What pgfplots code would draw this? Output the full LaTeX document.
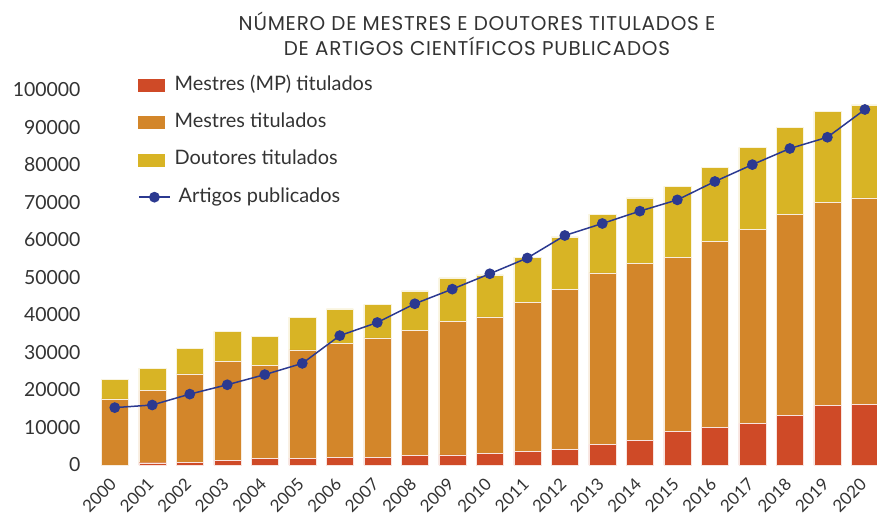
\documentclass[border=0pt]{standalone}
\usepackage{fontspec}
\setmainfont{Lato}
\newfontfamily\titlefont[LetterSpace=4]{Poppins}
\usepackage{pgfplots}
\pgfplotsset{compat=1.18}
\usepackage{pgfplotstable}
\definecolor{cMP}{HTML}{CF4A27}
\definecolor{cM}{HTML}{D3862A}
\definecolor{cD}{HTML}{D8B425}
\definecolor{cA}{HTML}{2B3990}
\definecolor{txt}{HTML}{333333}

\pgfplotstableread{
x year MP Mestres Doutores Artigos
0  2000 0     17600 5300  15300
1  2001 600   19300 5900  16000
2  2002 700   23600 6800  18900
3  2003 1300  26300 8000  21400
4  2004 1800  24700 7800  24100
5  2005 1800  28900 8700  27100
6  2006 2100  30400 9100  34500
7  2007 2000  31900 8900  38000
8  2008 2500  33400 10500 43000
9  2009 2700  35600 11600 46900
10 2010 3100  36400 11200 51000
11 2011 3600  39800 12000 55200
12 2012 4100  42800 13900 61200
13 2013 5500  45700 15700 64400
14 2014 6600  47200 17400 67700
15 2015 8900  46500 18900 70700
16 2016 10100 49500 19800 75600
17 2017 11100 51800 21800 80100
18 2018 13300 53600 23100 84400
19 2019 15900 54200 24200 87400
20 2020 16100 55100 24800 94800
}\datatable

\begin{document}
\begin{tikzpicture}
\begin{axis}[
  at={(96bp,49bp)}, anchor=south west,
  scale only axis,
  width=782bp, height=375bp,
  xmin=-0.5, xmax=20.35,
  ymin=0, ymax=100000,
  axis line style={draw=none},
  major tick length=0pt,
  xtick=data,
  xticklabels={2000,2001,2002,2003,2004,2005,2006,2007,2008,2009,2010,2011,2012,2013,2014,2015,2016,2017,2018,2019,2020},
  ytick={0,10000,...,100000},
  scaled y ticks=false,
  /pgf/number format/assume math mode=true,
  yticklabel={\pgfmathprintnumber[fixed,1000 sep={}]{\tick}},
  yticklabel style={font=\fontsize{19.5}{22}\selectfont, text=txt, anchor=east, xshift=-12bp},
  xticklabel style={font=\fontsize{17}{20}\selectfont, text=txt, inner sep=0pt, xshift=-6bp, yshift=-12bp, rotate=45, anchor=north east},
  ybar stacked,
  bar width=27bp,
  clip=false,
  legend style={draw=none, fill=none, at={(138bp-96bp,514bp-49bp-74bp)}, anchor=north west,
    font=\fontsize{20}{24}\selectfont, text=txt, row sep=15.4bp, inner sep=0pt,
    nodes={text height=14bp, text depth=4bp},
    /tikz/every odd column/.append style={column sep=8bp}},
  legend cell align=left,
]
\addplot+[ybar stacked, fill=cMP, draw=white!85!cMP, line width=0.4pt,
  legend image code/.code={\fill[cMP] (3bp,-6bp) rectangle (29bp,6bp);}]
  table[x=x, y=MP]{\datatable};
\addlegendentry{Mestres (MP) titulados}
\addplot+[ybar stacked, fill=cM, draw=white!85!cM, line width=0.4pt,
  legend image code/.code={\fill[cM] (3bp,-6bp) rectangle (29bp,6bp);}]
  table[x=x, y=Mestres]{\datatable};
\addlegendentry{Mestres titulados}
\addplot+[ybar stacked, fill=cD, draw=white!85!cD, line width=0.4pt,
  legend image code/.code={\fill[cD] (3bp,-6bp) rectangle (29bp,6bp);}]
  table[x=x, y=Doutores]{\datatable};
\addlegendentry{Doutores titulados}
\end{axis}
\begin{axis}[
  at={(96bp,49bp)}, anchor=south west,
  scale only axis,
  width=782bp, height=375bp,
  xmin=-0.5, xmax=20.35,
  ymin=0, ymax=100000,
  axis lines=none,
  ticks=none,
  clip=false,
  legend style={draw=none, fill=none, at={(138bp-96bp,514bp-49bp-186bp)}, anchor=north west,
    font=\fontsize{20}{24}\selectfont, text=txt, inner sep=0pt,
    nodes={text height=14bp, text depth=4bp},
    /tikz/every odd column/.append style={column sep=6bp}},
]
\addplot[color=cA, line width=1.5pt, mark=*, mark size=4.6bp, mark options={fill=cA, draw=cA},
  legend image code/.code={\draw[cA, line width=1.5pt] (0bp,0) -- (31bp,0); \fill[cA] (15.5bp,0) circle (4.6bp);}]
  table[x=x, y=Artigos]{\datatable};
\addlegendentry{Artigos publicados}
\end{axis}
\node[font=\titlefont\fontsize{20}{25}\selectfont, text=txt, align=center, anchor=north] at (477bp,514bp-9bp)
  {NÚMERO DE MESTRES E DOUTORES TITULADOS E\\DE ARTIGOS CIENTÍFICOS PUBLICADOS};
\pgfresetboundingbox
\path[use as bounding box] (0,0) rectangle (877bp,514bp);
\end{tikzpicture}
\end{document}
